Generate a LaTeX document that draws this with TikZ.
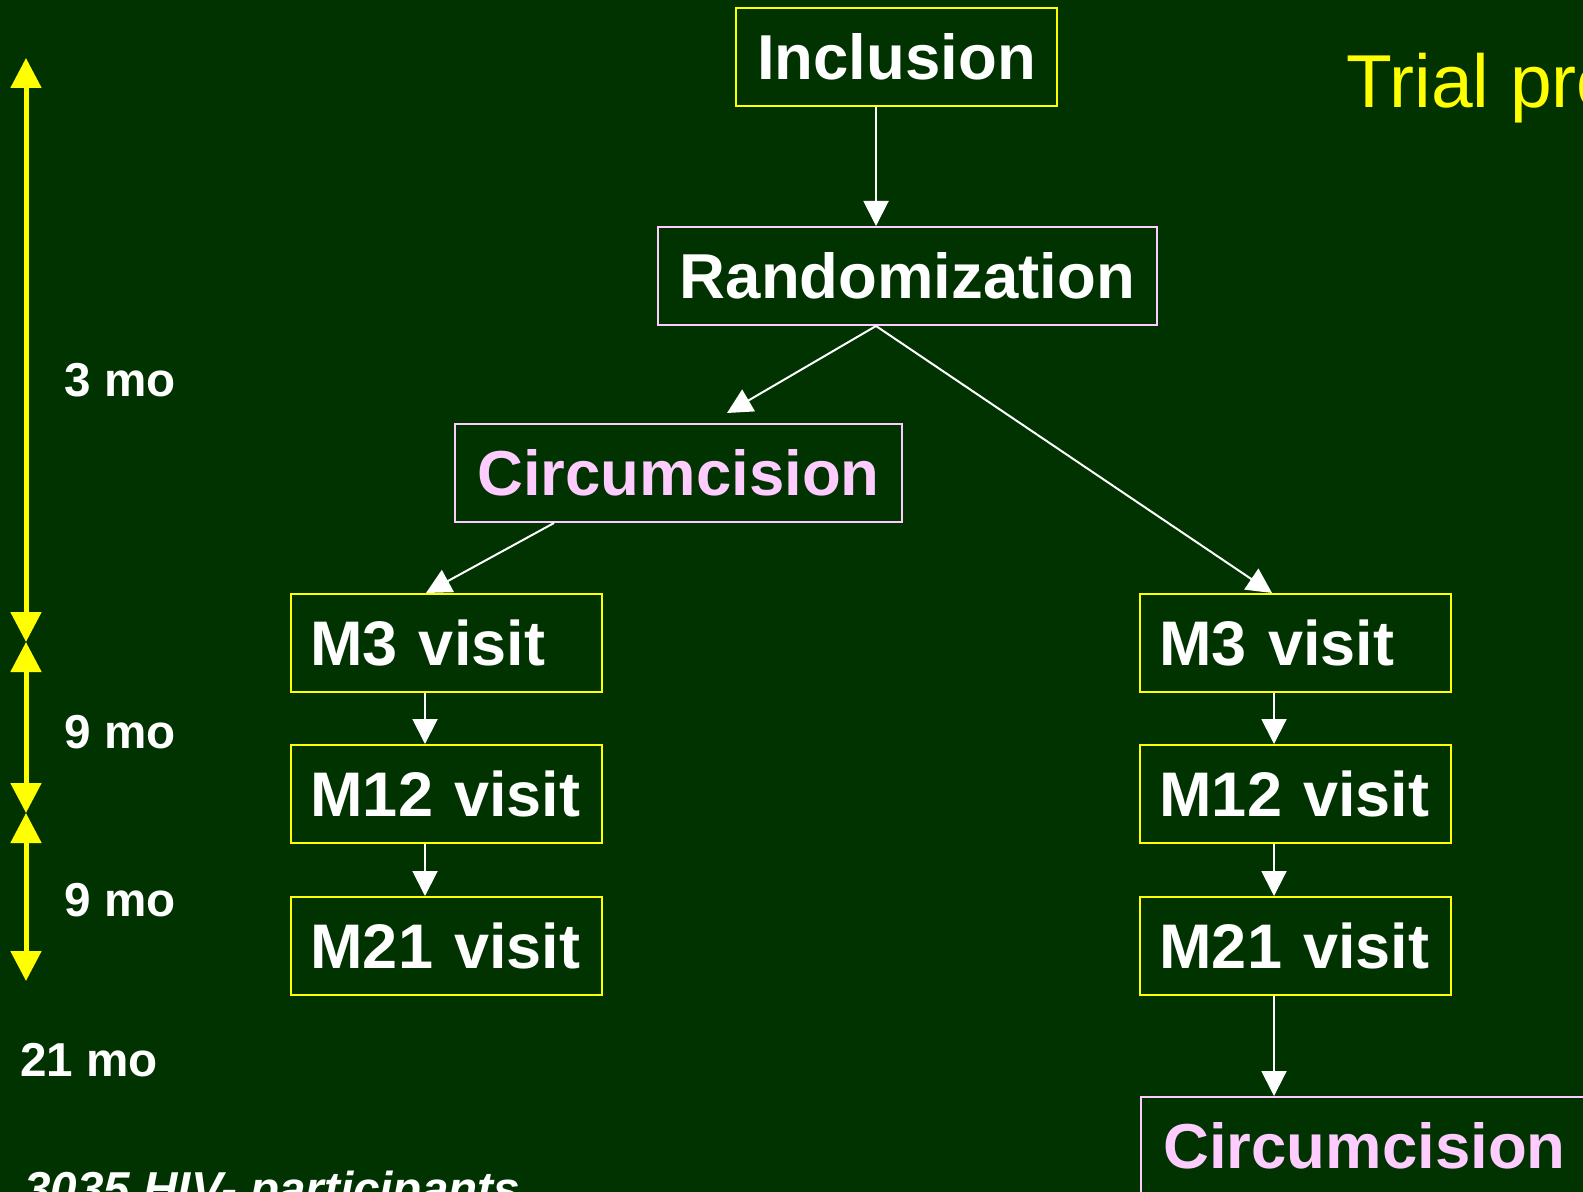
\documentclass[tikz,border=0pt]{standalone}
\usepackage{fontspec}
\setmainfont{Liberation Sans}
\usetikzlibrary{arrows.meta,positioning}

\definecolor{bggreen}{RGB}{0,51,0}
\definecolor{tyellow}{RGB}{255,255,0}
\definecolor{tpink}{RGB}{255,204,255}

\tikzstyle{stage}=[draw,rectangle,line width=1pt,minimum height=49pt,inner sep=0pt,text=white,font=\bfseries\fontsize{31.75}{38}\selectfont]
\tikzstyle{ystage}=[stage,draw=tyellow]
\tikzstyle{pstage}=[stage,draw=tpink]
\tikzstyle{circ}=[pstage,text=tpink,minimum width=223.5pt]
\tikzstyle{visit}=[ystage,text width=136pt,align=left,inner xsep=9.75pt,font=\bfseries\fontsize{31.5}{38}\selectfont]
\tikzstyle{period}=[text=white,inner sep=0pt,anchor=west,font=\bfseries\fontsize{23.8}{28}\selectfont]

\begin{document}
\begin{tikzpicture}[x=0.5pt,y=-0.5pt]
	\useasboundingbox (0,0) rectangle (1583,1192);
	\clip (0,0) rectangle (1583,1192);
	\fill[bggreen] (0,0) rectangle (1583,1192);

	\node (title)[anchor=base west,text=tyellow,inner sep=0pt,font=\fontsize{37.5}{45}\selectfont] at (1346,108) {Trial profile};

	\begin{scope}[>={Triangle[width=12.5pt,length=12.5pt]},white,line width=1pt]
		\node (Incl)[ystage,minimum width=160.5pt] at (896.5,57) {Inclusion};
		\node (Rand)[pstage,minimum width=249.5pt] at (907.5,276) {Randomization};
		\node (CircL)[circ] at (678.5,473) {Circumcision};
		\coordinate (split) at ([xshift=-15.75pt]Rand.south);

		\foreach \s/\x in {L/446.5,R/1295.5}{
			\node (M3\s)[visit] at (\x,643) {M3 visit};
			\node (M12\s)[visit,below=25.5pt of M3\s] {M12 visit};
			\node (M21\s)[visit,below=26pt of M12\s] {M21 visit};

			\draw[->] ([xshift=-10.75pt]M3\s.south) -- ([xshift=-10.75pt]M12\s.north);
			\draw[->] ([xshift=-10.75pt]M12\s.south) -- ([xshift=-10.75pt]M21\s.north);
		}
		\node (CircR)[circ,anchor=north west] at (1140,1096) {Circumcision};

		\draw[->] (split |- Incl.south) -- (split |- Rand.north);
		\draw[->] (split) -- ([xshift=24.25pt,yshift=5pt]CircL.north);
		\draw[->] (split) -- ([xshift=-11.75pt]M3R.north);
		\draw[->] ([xshift=-62.25pt]CircL.south) -- ([xshift=-10.25pt]M3L.north);
		\draw[->] ([xshift=-10.75pt]M21R.south) -- ([xshift=-10.75pt]M21R.south |- CircR.north);
	\end{scope}

	% time scale
	\begin{scope}[tyellow,line width=2.5pt,>={Triangle[width=15pt,length=15pt]}]
		\coordinate (t0) at (26,58);
		\coordinate (t1) at (26,642);
		\coordinate (t2) at (26,813);
		\coordinate (t3) at (26,981);
		\foreach \a/\b in {t0/t1,t1/t2,t2/t3}
			\draw[<->] (\a) -- (\b);
	\end{scope}

	\node (p1)[period] at (64,380) {3 mo};
	\node (p2)[period] at (64,732) {9 mo};
	\node (p3)[period] at (64,900) {9 mo};
	\node (p4)[period] at (20,1060) {21 mo};
	\node (total)[period,anchor=base west,font=\bfseries\itshape\fontsize{23.8}{28}\selectfont] at (24,1205) {3035 HIV- participants};
\end{tikzpicture}
\end{document}
